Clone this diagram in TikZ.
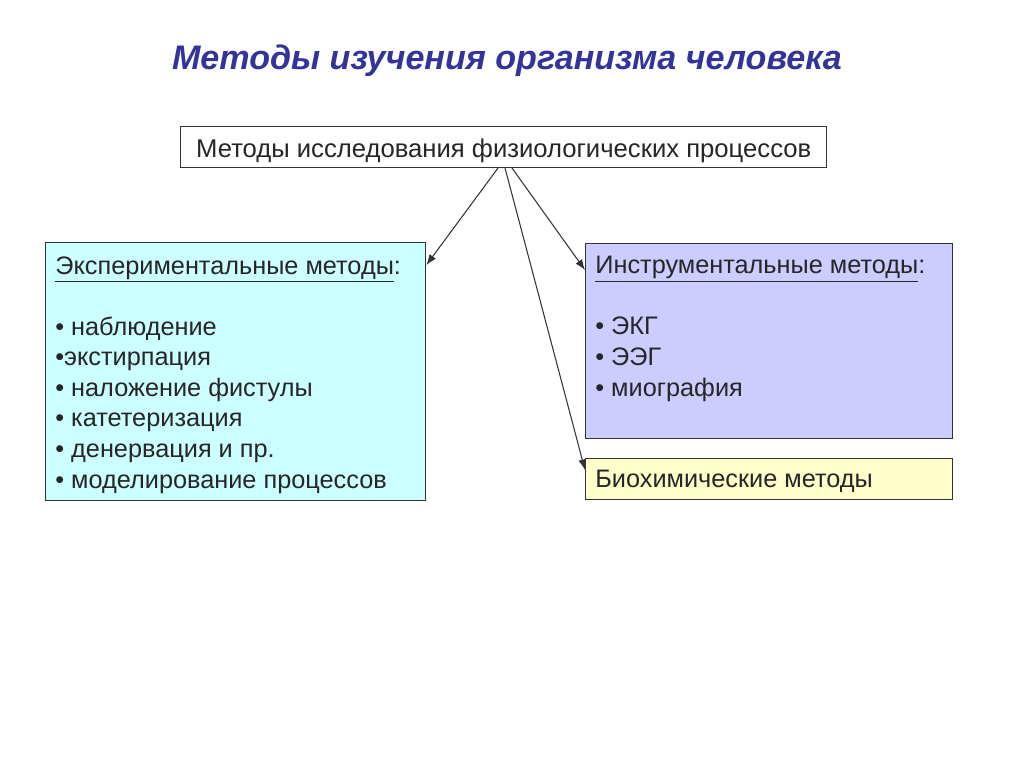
\documentclass[tikz,border=0pt]{standalone}
\usepackage{fontspec}
\setmainfont{Liberation Sans}
\usetikzlibrary{positioning,arrows.meta}
\definecolor{titleblue}{RGB}{51,51,153}
\definecolor{expcyan}{RGB}{204,255,255}
\definecolor{instlav}{RGB}{204,204,255}
\definecolor{biochyel}{RGB}{255,255,204}
\tikzset{
  box/.style={draw=black!80,line width=0.8pt,anchor=north west,inner sep=0pt},
  txt/.style={anchor=north west,inner sep=0pt,align=left,text=black!85,font=\fontsize{14.4}{17.4}\selectfont},
  link/.style={-{Latex[length=6pt,width=4.5pt]},line width=0.6pt,black!80}
}
\begin{document}
\begin{tikzpicture}[x=0.02cm,y=-0.02cm]
\useasboundingbox (0,0) rectangle (1024,768);

% title
\node[font=\fontsize{19.4}{22}\selectfont\bfseries\itshape,text=titleblue] (title) at (507,61)
  {Методы изучения организма человека};

% boxes
\node[box,fill=white,minimum width=646*0.02cm,minimum height=41*0.02cm] (proc) at (180,126) {};
\node[font=\fontsize{14.6}{17}\selectfont,text=black!85] (proctxt) at ([yshift=-0.07cm]proc.center) {Методы исследования физиологических процессов};

\node[box,fill=expcyan,minimum width=380*0.02cm,minimum height=258*0.02cm] (exp) at (45,242) {};
\node[txt] (exptxt) at (55,256) {\underline{Экспериментальные методы}:\\[17.4pt]
• наблюдение\\•экстирпация\\• наложение фистулы\\• катетеризация\\• денервация и пр.\\• моделирование процессов};

\node[box,fill=instlav,minimum width=367*0.02cm,minimum height=195*0.02cm] (inst) at (585,243) {};
\node[txt] (insttxt) at (595,256) {\underline{Инструментальные методы}:\\[17.4pt]
• ЭКГ\\• ЭЭГ\\• миография};

\node[box,fill=biochyel,minimum width=367*0.02cm,minimum height=41*0.02cm] (bio) at (585,458) {};
\node[txt,anchor=west] (biotxt) at (595,481) {Биохимические методы};

% arrows
\coordinate (a1) at (498,168);
\coordinate (a2) at (505,168);
\coordinate (a3) at (512,168);
\draw[link] (a1) -- (exp.north east |- 0,265);
\draw[link] (a3) -- (inst.north west |- 0,270);
\draw[link] (a2) -- (bio.north west |- 0,470);
\end{tikzpicture}
\end{document}
